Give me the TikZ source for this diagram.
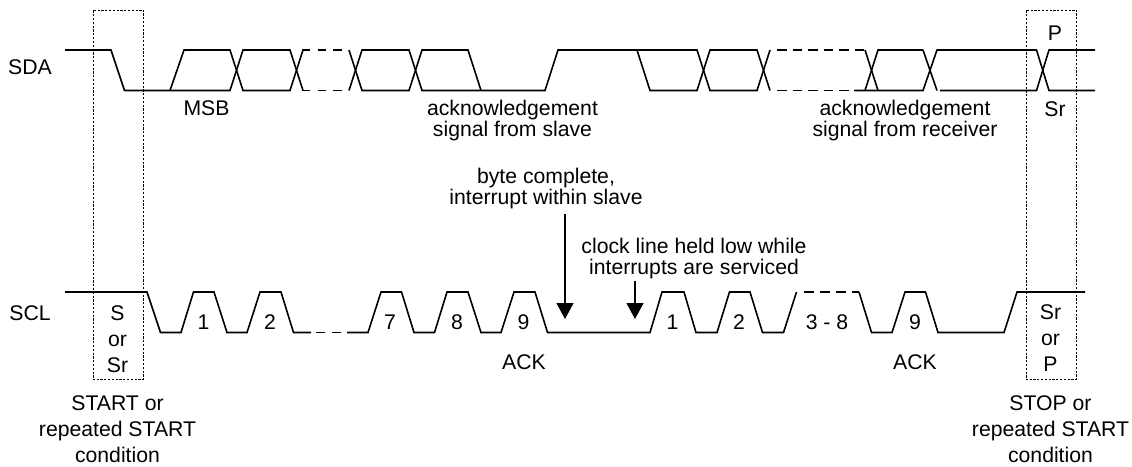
\documentclass[tikz,border=0pt]{standalone}
\usepackage{fontspec}
\usetikzlibrary{arrows.meta}
\setmainfont{Liberation Sans}
\begin{document}
\begin{tikzpicture}[x=1pt,y=-1pt,
  wave/.style={line width=1.6pt,line join=miter},
  dashwave/.style={line width=1.6pt,dash pattern=on 8pt off 8pt on 8pt off 7pt on 9pt off 20pt},
  longdash/.style={line width=1.6pt,dash pattern=on 9.7pt off 5.8pt},
  cond/.style={draw,line width=0.6pt,dash pattern=on 2.2pt off 1.6pt},
  lbl/.style={font=\fontsize{21.2}{21}\selectfont,inner sep=0pt,align=center,text=black},
  wide/.style={font=\fontsize{21.2}{26}\selectfont},
  pointer/.style={line width=1.2pt,-{Triangle[length=16pt,width=17pt]}}]
\useasboundingbox (0,0) rectangle (1132,466);
% condition boxes
\node[cond,minimum width=50.5pt,minimum height=369.5pt,inner sep=0pt,anchor=north west] (startbox) at (92.5,9.5) {};
\node[cond,minimum width=50.5pt,minimum height=369.5pt,inner sep=0pt,anchor=north west] (stopbox) at (1025.5,9.5) {};
% SDA
\draw[wave] (65,50) -- (111,50) -- (124.5,90.5) -- (230,90.5) -- (243,50) -- (290,50) -- (303,90.5);
\draw[wave] (170,90.5) -- (184,50) -- (230,50) -- (243,90.5) -- (290,90.5) -- (303,50);
\draw[dashwave] (302,50) -- (342,50);
\draw[dashwave] (302,90.5) -- (342,90.5);
\draw[wave] (349,90.5) -- (362,50) -- (409,50) -- (422,90.5) -- (481,90.5) -- (545,90.5) -- (558,50) -- (697,50) -- (710,90.5) -- (757,90.5) -- (770,50);
\draw[wave] (349,50) -- (362,90.5) -- (409,90.5) -- (422,50) -- (468,50) -- (481,90.5);
\draw[wave] (637,50) -- (650,90.5) -- (697,90.5) -- (710,50) -- (757,50) -- (770,90.5);
\draw[longdash] (777,50) -- (865,50);
\draw[longdash] (777,90.5) -- (850,90.5);
\draw[wave] (854,90.5) -- (923,90.5) -- (937,50) -- (1036.5,50) -- (1049,90.5) -- (1095,90.5);
\draw[wave] (865,90.5) -- (878,50) -- (923,50);
\draw[wave] (865,50) -- (878,90.5);
\draw[wave] (923,50) -- (937,90.5);
\draw[wave] (940,90.5) -- (1036.5,90.5) -- (1049,50) -- (1095,50);
% SCL
\draw[wave] (65,292) -- (147,292) -- (160.5,332.5) -- (181,332.5) -- (193.5,292) -- (214,292) -- (227,332.5) -- (247,332.5) -- (260,292) -- (281,292) -- (293.5,332.5) -- (311,332.5);
\draw[wave] (316,332.5) -- (325,332.5);
\draw[wave] (332,332.5) -- (341,332.5);
\draw[wave] (347,332.5) -- (368,332.5) -- (381,292) -- (401.5,292) -- (414,332.5) -- (434.5,332.5) -- (447,292) -- (468,292) -- (481,332.5) -- (501,332.5) -- (514,292) -- (535,292) -- (547.5,332.5) -- (650,332.5) -- (662,292) -- (684,292) -- (696,332.5) -- (717,332.5) -- (729.5,292) -- (750,292) -- (762.5,332.5) -- (783.5,332.5) -- (796.5,292);
\draw[wave,dash pattern=on 10pt off 6pt] (804,292) -- (859,292);
\draw[wave] (859,292) -- (871.5,332.5) -- (892,332.5) -- (905,292) -- (925.5,292) -- (938,332.5) -- (1004,332.5) -- (1017,292) -- (1085,292);
% arrows
\coordinate (byteend) at (565,319);
\coordinate (heldend) at (635,319);
\node[lbl] (byte) at (546,189) {byte complete,\\interrupt within slave};
\node[lbl] (held) at (694,258.5) {clock line held low while\\interrupts are serviced};
\coordinate (bytestart) at (565,213.5);
\coordinate (heldstart) at (635,281);
\draw[pointer] (bytestart) -- (byteend);
\draw[pointer] (heldstart) -- (heldend);
% labels
\node[lbl] (sda) at (30,67) {SDA};
\node[lbl] (scl) at (30,313) {SCL};
\node[lbl] (msb) at (206.5,108) {MSB};
\node[lbl] (ackslave) at (512.5,120.5) {acknowledgement\\signal from slave};
\node[lbl] (ackrecv) at (905,120.5) {acknowledgement\\signal from receiver};
\node[lbl] (p) at (1055,33) {P};
\node[lbl] (sr) at (1055,109) {Sr};
\node[lbl] (sor) at (117.5,339) {S\\[5pt]or\\[5pt]Sr};
\node[lbl] (srorp) at (1050.5,338) {Sr\\[5pt]or\\[5pt]P};
\node[lbl] (n1) at (203.5,322) {1};
\node[lbl] (n2) at (270,322) {2};
\node[lbl] (n7) at (390,322) {7};
\node[lbl] (n8) at (457,322) {8};
\node[lbl] (n9) at (523.5,322) {9};
\node[lbl] (m1) at (672.5,322) {1};
\node[lbl] (m2) at (739,322) {2};
\node[lbl] (m38) at (827,322) {3 - 8};
\node[lbl] (m9) at (915,322) {9};
\node[lbl] (ack1) at (524,362) {ACK};
\node[lbl] (ack2) at (915,362) {ACK};
\node[lbl,wide] (startc) at (117.5,429.5) {START or\\repeated START\\condition};
\node[lbl,wide] (stopc) at (1050.5,429.5) {STOP or\\repeated START\\condition};
\end{tikzpicture}
\end{document}
